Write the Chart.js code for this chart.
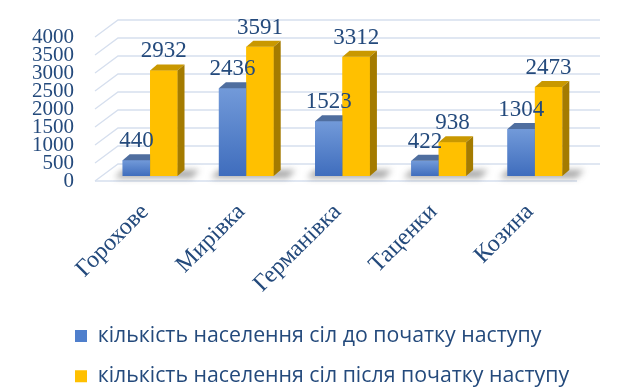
<!DOCTYPE html>
<html>
<head>
<meta charset="utf-8">
<script src="https://cdn.jsdelivr.net/npm/chart.js@4/dist/chart.umd.min.js"></script>
<style>
    html, body { margin: 0; padding: 0; background: #fff; }
    #wrap { width: 640px; height: 390px; }
</style>
</head>
<body>
<div id="wrap"><canvas id="popChart"></canvas></div>
<script>
// Дані діаграми
const villages = ['Горохове', 'Мирівка', 'Германівка', 'Таценки', 'Козина'];
const popBefore = [440, 2436, 1523, 422, 1304];
const popAfter = [2932, 3591, 3312, 938, 2473];
const seriesNames = [
    'кількість населення сіл до початку наступу',
    'кількість населення сіл після початку наступу'
];
const yMin = 0;
const yMax = 4000;
const yStep = 500;

const textColor = '#244a7c';
const DX = 7, DY = 6; // глибина 3D-стовпця

// кольори граней: фронт (верх, низ), верх, бік
const faces = [
    { front: ['#729ad9', '#3f6dbd'], top: '#4f6e9f', side: '#2f528f' },
    { front: ['#ffc000', '#ffc000'], top: '#c99800', side: '#a47b00' }
];

// стіни з сіткою, тіні на підлозі
const walls3d = {
    id: 'walls3d',
    afterLayout(chart) {
        // легенда зліва, трохи нижче
        chart.legend.left += 56;
        chart.legend.right += 56;
        chart.legend.top += 7;
        chart.legend.bottom += 7;
    },
    beforeDatasetsDraw(chart) {
        const { ctx, chartArea: a, scales: { y } } = chart;
        ctx.save();
        ctx.strokeStyle = '#d6dfee';
        ctx.lineWidth = 1.3;
        y.ticks.forEach(t => {
            const py = y.getPixelForValue(t.value);
            ctx.beginPath();
            ctx.moveTo(a.left - 7, py + 5);
            ctx.lineTo(a.left + 16, py - 12);
            ctx.lineTo(a.right + 17, py - 12);
            ctx.stroke();
        });
        const p0 = y.getPixelForValue(0);
        ctx.beginPath();
        ctx.moveTo(a.left - 7, p0 + 5);
        ctx.lineTo(a.right - 6, p0 + 5);
        ctx.stroke();

        // тіні під групами стовпців
        const m0 = chart.getDatasetMeta(0).data;
        const m1 = chart.getDatasetMeta(chart.data.datasets.length - 1).data;
        ctx.filter = 'blur(3px)';
        ctx.fillStyle = 'rgba(60,60,60,0.45)';
        m0.forEach((el, i) => {
            const l = el.x - el.width / 2;
            const r = m1[i].x + m1[i].width / 2;
            const b = el.base;
            ctx.beginPath();
            ctx.moveTo(l - 8, b + 2);
            ctx.lineTo(r + 14, b + 2);
            ctx.lineTo(r + 22, b - 6);
            ctx.lineTo(l, b - 6);
            ctx.closePath();
            ctx.fill();
        });
        ctx.restore();
    },
    afterDatasetsDraw(chart) {
        const { ctx } = chart;
        const n = chart.data.datasets.length;
        ctx.save();
        chart.data.labels.forEach((lab, i) => {
            for (let d = 0; d < n; d++) {
                const el = chart.getDatasetMeta(d).data[i];
                const l = el.x - el.width / 2;
                const r = el.x + el.width / 2;
                const top = el.y, b = el.base;
                const f = faces[d];

                const g = ctx.createLinearGradient(0, top, 0, b);
                g.addColorStop(0, f.front[0]);
                g.addColorStop(1, f.front[1]);
                ctx.fillStyle = g;
                ctx.fillRect(l, top, r - l, b - top);

                // верхня грань
                ctx.fillStyle = f.top;
                ctx.beginPath();
                ctx.moveTo(l, top);
                ctx.lineTo(r, top);
                ctx.lineTo(r + DX, top - DY);
                ctx.lineTo(l + DX, top - DY);
                ctx.closePath();
                ctx.fill();

                // бічна грань
                ctx.fillStyle = f.side;
                ctx.beginPath();
                ctx.moveTo(r, top);
                ctx.lineTo(r + DX, top - DY);
                ctx.lineTo(r + DX, b - DY);
                ctx.lineTo(r, b);
                ctx.closePath();
                ctx.fill();
            }
        });

        // підписи значень
        ctx.font = '23px "Liberation Serif", "Times New Roman", serif';
        ctx.fillStyle = textColor;
        ctx.textAlign = 'center';
        ctx.textBaseline = 'alphabetic';
        for (let d = 0; d < n; d++) {
            const meta = chart.getDatasetMeta(d);
            meta.data.forEach((el, i) => {
                ctx.fillText(chart.data.datasets[d].data[i], el.x, el.y - DY - 7);
            });
        }
        ctx.restore();
    }
};

const ctx = document.getElementById('popChart').getContext('2d');

new Chart(ctx, {
    type: 'bar',
    data: {
        labels: villages,
        datasets: [
            {
                label: seriesNames[0],
                data: popBefore,
                backgroundColor: '#4f7fcc',
                categoryPercentage: 0.57,
                barPercentage: 1,
            },
            {
                label: seriesNames[1],
                data: popAfter,
                backgroundColor: '#ffc000',
                categoryPercentage: 0.57,
                barPercentage: 1,
            }
        ]
    },
    options: {
        responsive: true,
        maintainAspectRatio: false,
        animation: false,
        layout: {
            padding: { top: 32, right: 57, left: 0, bottom: 0 }
        },
        plugins: {
            tooltip: { enabled: false },
            legend: {
                position: 'bottom',
                align: 'start',
                labels: {
                    boxWidth: 12,
                    boxHeight: 12,
                    padding: 19,
                    color: textColor,
                    font: { family: '"Open Sans"', size: 21.3 }
                }
            }
        },
        scales: {
            x: {
                grid: { display: false, drawTicks: false },
                border: { display: false },
                ticks: {
                    color: textColor,
                    font: { family: '"Liberation Serif"', size: 24 },
                    minRotation: 45,
                    maxRotation: 45,
                    autoSkip: false,
                    padding: 22,
                    labelOffset: -5
                },
                afterFit(scale) { scale.height = 123.4; }
            },
            y: {
                min: yMin,
                max: yMax,
                grid: { display: false, drawTicks: false },
                border: { display: false },
                ticks: {
                    stepSize: yStep,
                    autoSkip: false,
                    callback: v => String(v),
                    color: textColor,
                    font: { family: '"Liberation Serif"', size: 21 },
                    padding: 28,
                    labelOffset: 5
                },
                afterFit(scale) {
                    scale.width = 102;
                    scale.paddingTop = 0;
                    scale.paddingBottom = 0;
                }
            }
        }
    },
    plugins: [walls3d]
});
</script>
</body>
</html>
